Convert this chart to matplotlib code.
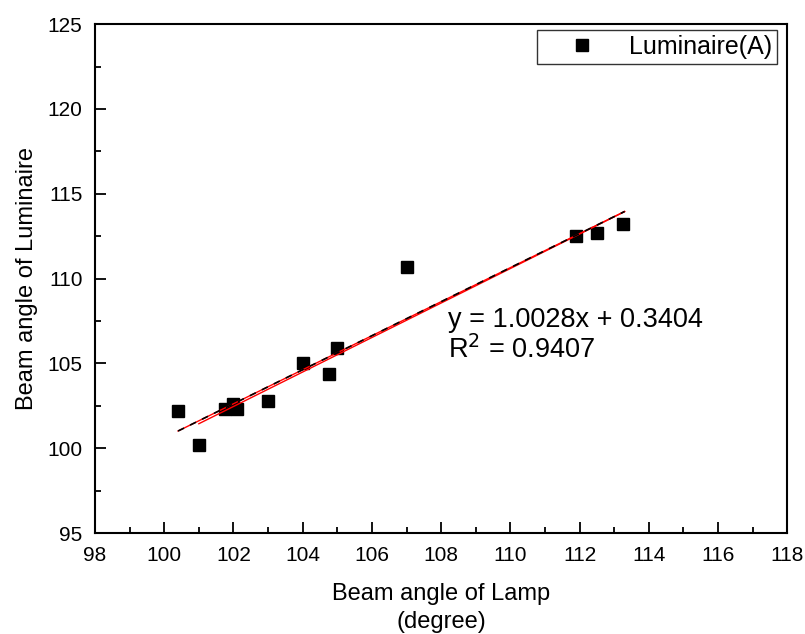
import matplotlib
matplotlib.use("Agg")
import matplotlib.pyplot as plt
import numpy as np

plt.rcParams['font.family'] = ['Liberation Sans', 'DejaVu Sans']

# data
lamp = [100.4, 101.0, 101.75, 102.0, 102.1, 103.0, 104.0, 104.75, 105.0, 107.0, 111.9, 112.5, 113.25]
luminaire = [102.2, 100.2, 102.3, 102.6, 102.3, 102.8, 105.0, 104.4, 105.9, 110.7, 112.5, 112.7, 113.2]

slope = 1.0028
intercept = 0.3404
fit_x = [100.4, 113.3]
red2_x = [101.0, 113.3]
red2_y = [101.45, 113.95]

my_dpi = 100
fig = plt.figure(figsize=(805 / my_dpi, 634 / my_dpi), dpi=my_dpi)
ax = fig.add_axes([0.118, 0.159, 0.860, 0.803])

ax.plot(lamp, luminaire, 's', color='black', markersize=8, label='Luminaire(A)')

fx = np.array(fit_x)
ax.plot(fx, slope * fx + intercept, color='red', linewidth=1.0)
ax.plot(red2_x, red2_y, color='red', linewidth=1.0)
ax.plot(fx, slope * fx + intercept, color='black', linewidth=1.2,
        linestyle=(0, (4, 4)))

ax.text(108.2, 107.15, 'y = 1.0028x + 0.3404', fontsize=19.5)
ax.text(108.2, 105.3, 'R$^2$ = 0.9407', fontsize=19.5)

ax.set_xlim(98, 118)
ax.set_ylim(95, 125)
ax.set_xticks(np.arange(98, 119, 2))
ax.set_yticks(np.arange(95, 126, 5))
ax.set_xticks(np.arange(99, 118, 2), minor=True)
ax.set_yticks(np.arange(97.5, 125, 5), minor=True)
ax.tick_params(which='major', direction='in', length=8, width=1.3, labelsize=15, pad=9)
ax.tick_params(which='minor', direction='in', length=4, width=1.3)
for s in ax.spines.values():
    s.set_linewidth(1.5)

ax.set_xlabel('Beam angle of Lamp\n(degree)', fontsize=17, labelpad=13, linespacing=1.35)
ax.set_ylabel('Beam angle of Luminaire', fontsize=17, labelpad=7)

leg = ax.legend(loc='upper right', bbox_to_anchor=(0.9855, 0.988), borderaxespad=0,
                fontsize=18, fancybox=False, frameon=True,
                edgecolor='black', borderpad=0.2, handletextpad=0.3,
                handlelength=3.2, markerscale=1.0)
leg.get_frame().set_linewidth(1.0)

fig.savefig("out.png", dpi=my_dpi)
plt.close(fig)
